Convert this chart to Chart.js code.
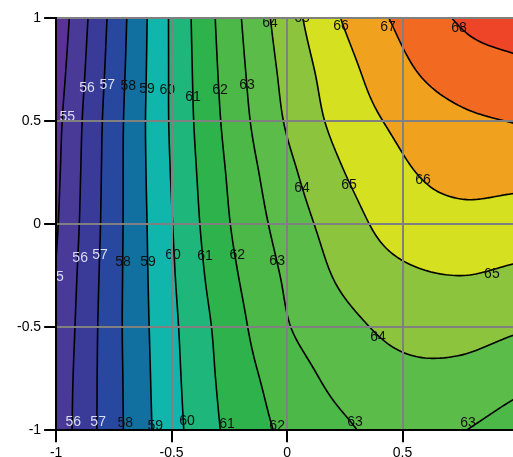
<!DOCTYPE html>
<html>
<head>
<meta charset="utf-8">
<script src="https://cdn.jsdelivr.net/npm/chart.js@4.4.0/dist/chart.umd.min.js"></script>
<style>
  html, body { margin: 0; padding: 0; background: #fff; overflow: hidden; }
  #wrap { width: 513px; height: 457px; overflow: hidden; position: relative; }
  #box { width: 540px; height: 465px; position: absolute; left: 0; top: 0; }
</style>
</head>
<body>
<div id="wrap"><div id="box"><canvas id="contour-chart"></canvas></div></div>
<script>
// grid of values (columns = xValues, rows = yValues)
const xValues = [-1, -0.75, -0.5, -0.25, 0, 0.25, 0.5, 0.75, 1];
const yValues = [1, 0.75, 0.5, 0.25, 0, -0.25, -0.5, -0.75, -1];
const zRows = [
  [54.3, 57.35, 60.14, 62.55, 64.53, 66.1, 67.24, 68.1, 68.5],
  [54.5, 57.45, 60.13, 62.43, 64.3, 65.68, 66.8, 67.54, 67.8],
  [54.7, 57.55, 60.12, 62.3, 64.1, 65.4, 66.25, 66.8, 67.05],
  [54.8, 57.58, 60.05, 62.12, 63.74, 65.0, 65.86, 66.3, 66.3],
  [54.9, 57.6, 59.96, 61.97, 63.43, 64.57, 65.46, 65.69, 65.55],
  [55.05, 57.64, 59.87, 61.75, 63.15, 64.2, 64.81, 65.0, 64.82],
  [55.17, 57.67, 59.77, 61.5, 62.93, 63.73, 64.26, 64.36, 64.1],
  [55.3, 57.66, 59.7, 61.35, 62.49, 63.32, 63.75, 63.7, 63.28],
  [55.36, 57.65, 59.63, 61.21, 62.2, 62.86, 63.4, 63.05, 62.5]
];
const levels = [55, 56, 57, 58, 59, 60, 61, 62, 63, 64, 65, 66, 67, 68];
const bandColors = ['#5a3296', '#4a3a98', '#3a3a98', '#2848a0', '#1270a0', '#10b6ac', '#1eb67a',
  '#2eb34c', '#4cb848', '#5cbc4a', '#8cc43e', '#d4e020', '#f0a21e', '#f26a22', '#ee4428'];

// contour labels (text, position in data units)
const labelText = ['64', '65', '66', '67', '68',
  '55', '56', '57', '58', '59', '60', '61', '62', '63',
  '64', '65', '66',
  '55', '56', '57', '58', '59', '60', '61', '62', '63',
  '65', '64',
  '56', '57', '58', '59', '60', '61', '62', '63', '63'];
const labelX = [-0.074, 0.065, 0.234, 0.437, 0.745,
  -0.952, -0.866, -0.779, -0.688, -0.606, -0.519, -0.407, -0.290, -0.173,
  0.065, 0.268, 0.589,
  -1.0, -0.896, -0.810, -0.710, -0.602, -0.494, -0.355, -0.216, -0.043,
  0.887, 0.394,
  -0.926, -0.818, -0.701, -0.571, -0.433, -0.260, -0.043, 0.294, 0.784];
const labelY = [0.973, 0.998, 0.959, 0.954, 0.949,
  0.521, 0.662, 0.676, 0.667, 0.657, 0.652, 0.618, 0.652, 0.672,
  0.175, 0.190, 0.214,
  -0.258, -0.165, -0.151, -0.185, -0.185, -0.151, -0.156, -0.151, -0.180,
  -0.243, -0.550,
  -0.959, -0.959, -0.968, -0.978, -0.954, -0.973, -0.978, -0.959, -0.968];

const nx = xValues.length;
const ny = yValues.length;

function gridZ(i, j) {
  if (i < 0) return 2 * gridZ(0, j) - gridZ(1, j);
  if (i > nx - 1) return 2 * gridZ(nx - 1, j) - gridZ(nx - 2, j);
  if (j < 0) return 2 * gridZ(i, 0) - gridZ(i, 1);
  if (j > ny - 1) return 2 * gridZ(i, ny - 1) - gridZ(i, ny - 2);
  return zRows[j][i];
}

function catmull(p0, p1, p2, p3, t) {
  return p1 + 0.5 * t * (p2 - p0 + t * (2 * p0 - 5 * p1 + 4 * p2 - p3 + t * (3 * (p1 - p2) + p3 - p0)));
}

function fieldAt(x, y) {
  const fi = (x - xValues[0]) / (xValues[1] - xValues[0]);
  const fj = (y - yValues[0]) / (yValues[1] - yValues[0]);
  const i = Math.min(Math.max(Math.floor(fi), 0), nx - 2);
  const j = Math.min(Math.max(Math.floor(fj), 0), ny - 2);
  const tx = fi - i, ty = fj - j;
  const col = [];
  for (let m = -1; m <= 2; m++) {
    col.push(catmull(gridZ(i - 1, j + m), gridZ(i, j + m), gridZ(i + 1, j + m), gridZ(i + 2, j + m), tx));
  }
  return catmull(col[0], col[1], col[2], col[3], ty);
}

function hexToRgb(h) {
  return [parseInt(h.slice(1, 3), 16), parseInt(h.slice(3, 5), 16), parseInt(h.slice(5, 7), 16)];
}

const contourPlugin = {
  id: 'contour',
  beforeDraw(chart) {
    const { ctx, chartArea, scales } = chart;
    const left = Math.floor(chartArea.left), top = Math.floor(chartArea.top);
    const w = Math.ceil(chartArea.right) - left, h = Math.ceil(chartArea.bottom) - top;
    const rgb = bandColors.map(hexToRgb);

    // filled bands
    const off = document.createElement('canvas');
    off.width = w; off.height = h;
    const octx = off.getContext('2d');
    const img = octx.createImageData(w, h);
    for (let py = 0; py < h; py++) {
      const yv = scales.y.getValueForPixel(top + py + 0.5);
      for (let px = 0; px < w; px++) {
        const xv = scales.x.getValueForPixel(left + px + 0.5);
        const v = fieldAt(xv, yv);
        let b = 0;
        while (b < levels.length && v >= levels[b]) b++;
        const c = rgb[b];
        const k = (py * w + px) * 4;
        img.data[k] = c[0]; img.data[k + 1] = c[1]; img.data[k + 2] = c[2]; img.data[k + 3] = 255;
      }
    }
    octx.putImageData(img, 0, 0);
    ctx.save();
    ctx.beginPath();
    ctx.rect(chartArea.left, chartArea.top, chartArea.right - chartArea.left, chartArea.bottom - chartArea.top);
    ctx.clip();
    ctx.drawImage(off, left, top);

    // contour lines (marching squares on a fine pixel grid)
    const step = 3;
    const cols = Math.ceil(w / step) + 1, rows = Math.ceil(h / step) + 1;
    const vals = [];
    for (let r = 0; r < rows; r++) {
      const yv = scales.y.getValueForPixel(top + r * step);
      const row = [];
      for (let c = 0; c < cols; c++) {
        row.push(fieldAt(scales.x.getValueForPixel(left + c * step), yv));
      }
      vals.push(row);
    }
    ctx.strokeStyle = '#000';
    ctx.lineWidth = 1.6;
    ctx.lineJoin = 'round';
    ctx.lineCap = 'round';
    levels.forEach(L => {
      ctx.beginPath();
      for (let r = 0; r < rows - 1; r++) {
        for (let c = 0; c < cols - 1; c++) {
          const a = vals[r][c], b = vals[r][c + 1], d = vals[r + 1][c], e = vals[r + 1][c + 1];
          const x0 = left + c * step, y0 = top + r * step;
          const pts = [];
          if ((a < L) !== (b < L)) pts.push([x0 + step * (L - a) / (b - a), y0]);
          if ((b < L) !== (e < L)) pts.push([x0 + step, y0 + step * (L - b) / (e - b)]);
          if ((d < L) !== (e < L)) pts.push([x0 + step * (L - d) / (e - d), y0 + step]);
          if ((a < L) !== (d < L)) pts.push([x0, y0 + step * (L - a) / (d - a)]);
          for (let p = 0; p + 1 < pts.length; p += 2) {
            ctx.moveTo(pts[p][0], pts[p][1]);
            ctx.lineTo(pts[p + 1][0], pts[p + 1][1]);
          }
        }
      }
      ctx.stroke();
    });

    // labels
    ctx.font = '14px "Liberation Sans", Arial, sans-serif';
    ctx.textAlign = 'center';
    ctx.textBaseline = 'middle';
    labelText.forEach((t, i) => {
      ctx.fillStyle = parseInt(t) <= 57 ? '#dcdcf2' : '#111';
      ctx.fillText(t, scales.x.getPixelForValue(labelX[i]), scales.y.getPixelForValue(labelY[i]));
    });
    ctx.restore();
  }
};

const axisStyle = {
  type: 'linear',
  min: -1,
  max: 1,
  ticks: {
    stepSize: 0.5,
    color: '#000',
    font: { family: '"Liberation Sans", Arial', size: 14 },
    padding: 3,
    callback: v => String(v)
  },
  grid: { color: '#808080', lineWidth: 2, tickColor: '#000', tickLength: 12, tickWidth: 2 },
  border: { color: '#000', width: 2 }
};

new Chart(document.getElementById('contour-chart'), {
  type: 'scatter',
  data: { datasets: [{ data: [] }] },
  options: {
    responsive: true,
    maintainAspectRatio: false,
    animation: false,
    layout: { padding: { left: 14, top: 18, right: 22, bottom: 0 } },
    plugins: { legend: { display: false }, tooltip: { enabled: false } },
    scales: {
      x: axisStyle,
      y: axisStyle
    }
  },
  plugins: [contourPlugin]
});
</script>
</body>
</html>
